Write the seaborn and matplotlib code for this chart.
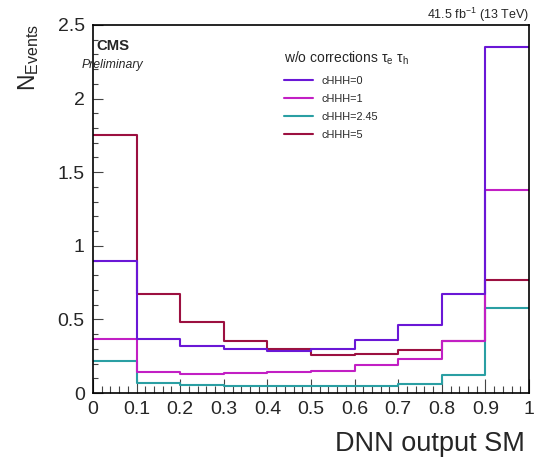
import numpy as np
import pandas as pd
import matplotlib
matplotlib.use("Agg")
import matplotlib.pyplot as plt
import seaborn as sns
from matplotlib.ticker import MultipleLocator, FormatStrFormatter
from matplotlib.lines import Line2D

# ---- data ----
bin_edges = [0.0, 0.1, 0.2, 0.3, 0.4, 0.5, 0.6, 0.7, 0.8, 0.9, 1.0]
series_labels = ["cHHH=0", "cHHH=1", "cHHH=2.45", "cHHH=5"]
vals_c0 = [0.90, 0.37, 0.32, 0.30, 0.285, 0.30, 0.36, 0.46, 0.67, 2.35]
vals_c1 = [0.365, 0.14, 0.13, 0.135, 0.14, 0.15, 0.19, 0.23, 0.35, 1.38]
vals_c245 = [0.215, 0.07, 0.052, 0.045, 0.045, 0.047, 0.05, 0.063, 0.12, 0.575]
vals_c5 = [1.75, 0.675, 0.48, 0.35, 0.30, 0.26, 0.265, 0.29, 0.35, 0.77]
colors = ["#6a17d6", "#c21fc4", "#2a9fa3", "#9c1040"]

centers = [(a + b) / 2 for a, b in zip(bin_edges[:-1], bin_edges[1:])]
rows = []
for lab, vals in zip(series_labels, [vals_c0, vals_c1, vals_c245, vals_c5]):
    for c, v in zip(centers, vals):
        rows.append({"x": c, "w": v, "series": lab})
df = pd.DataFrame(rows)

sns.set_theme(style="ticks")
plt.rcParams["font.family"] = ["Liberation Sans", "DejaVu Sans"]
plt.rcParams["mathtext.fontset"] = "custom"
plt.rcParams["mathtext.rm"] = "Liberation Sans"
plt.rcParams["mathtext.it"] = "Liberation Sans:italic"
plt.rcParams["mathtext.bf"] = "Liberation Sans:bold"

W, H = 535, 459
fig = plt.figure(figsize=(W / 100, H / 100), dpi=100)
ax = fig.add_axes([93 / W, 1 - 393 / H, (529 - 93) / W, (393 - 25) / H])

sns.histplot(data=df, x="x", weights="w", hue="series", hue_order=series_labels,
             palette=colors, bins=bin_edges, element="step", fill=False,
             linewidth=1.5, legend=False, ax=ax)

ax.set_xlim(0, 1)
ax.set_ylim(0, 2.5)
ax.set_xlabel("")
ax.set_ylabel("")

ax.xaxis.set_major_locator(MultipleLocator(0.1))
ax.xaxis.set_minor_locator(MultipleLocator(0.02))
ax.yaxis.set_major_locator(MultipleLocator(0.5))
ax.yaxis.set_minor_locator(MultipleLocator(0.1))
ax.xaxis.set_major_formatter(FormatStrFormatter("%g"))
ax.yaxis.set_major_formatter(FormatStrFormatter("%g"))
ax.tick_params(axis="x", which="major", direction="in", length=10, width=0.8,
               color="#444444", labelsize=14, pad=6)
ax.tick_params(axis="x", which="minor", direction="in", length=5, width=0.8, color="#444444")
ax.tick_params(axis="y", which="major", direction="in", length=7, width=0.8,
               color="#444444", labelsize=14, pad=6)
ax.tick_params(axis="y", which="minor", direction="in", length=3.5, width=0.8, color="#444444")
for s in ax.spines.values():
    s.set_visible(True)
    s.set_linewidth(1.2)
    s.set_color("black")

# axis titles
fig.text(525 / W, 1 - 451 / H, "DNN output SM", ha="right", va="baseline", fontsize=19.5)
fig.text(29 / W, 1 - 24 / H, r"N$_\mathregular{Events}$", rotation=90, ha="center",
         va="top", fontsize=16.5)

# CMS labels
fig.text(96 / W, 1 - 50 / H, "CMS", fontsize=10.7, fontweight="bold", ha="left", va="baseline")
fig.text(82 / W, 1 - 68 / H, "Preliminary", fontsize=8.8, style="italic", ha="left", va="baseline")
fig.text(529 / W, 1 - 19 / H, r"41.5 fb$^\mathregular{-1}$ (13 TeV)", fontsize=9,
         ha="right", va="baseline")

# legend
handles = [Line2D([0], [0], color=c, lw=1.5) for c in colors]
leg = ax.legend(handles, series_labels, title=r"w/o corrections τ$_\mathregular{e}$ τ$_\mathregular{h}$",
                loc="upper left", bbox_to_anchor=(284 / W, 1 - 50 / H),
                bbox_transform=fig.transFigure, frameon=False, fontsize=7.8,
                title_fontsize=10, handlelength=2.7, handletextpad=0.75,
                labelspacing=0.75, borderpad=0, borderaxespad=0, alignment="left")

fig.savefig("out.png", dpi=100)
